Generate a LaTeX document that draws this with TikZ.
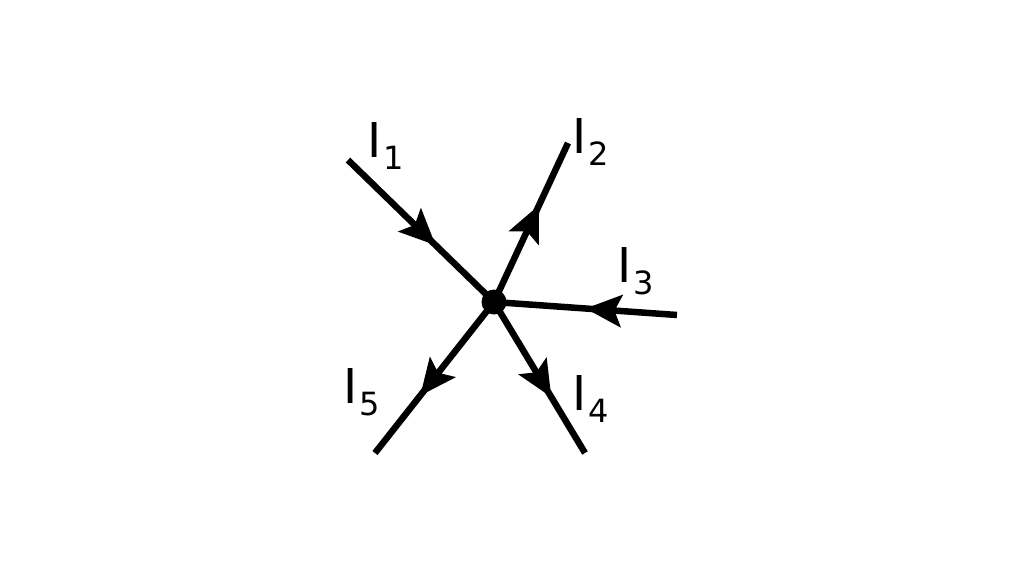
\documentclass[tikz,border=0pt]{standalone}
\usepackage{fontspec}
\setmainfont{DejaVu Sans}
\usetikzlibrary{arrows.meta,decorations.markings}

\tikzset{
  wire/.style={line width=6.5pt,color=black},
  midarrow/.style={postaction={decorate},decoration={markings,
    mark=at position #1 with {\arrow{Stealth[length=36pt,width=32pt,inset=7pt]}}}},
  junction/.style={circle,fill=black,inner sep=0pt,minimum size=25pt},
  curlabel/.style={anchor=base west,inner sep=0pt,font=\fontsize{48}{48}\selectfont}
}
\newcommand{\cur}[1]{I\kern2pt\raisebox{-12pt}{\fontsize{32}{32}\selectfont #1}}

\begin{document}
\begin{tikzpicture}[x=1pt,y=1pt,yscale=-1,xscale=1]
\useasboundingbox (0,0) rectangle (1024,576);

% Junction
\node [junction] (o) at (494,302) {};
\coordinate (e1) at (348,160);
\coordinate (e2) at (568,143);
\coordinate (e3) at (677,315);
\coordinate (e4) at (585,453);
\coordinate (e5) at (375,453);

% Straight Lines
\draw [wire,midarrow=0.6] (e1) -- (o.center);
\draw [wire,midarrow=0.61] (o.center) -- (e2);
\draw [wire,midarrow=0.5] (e3) -- (o.center);
\draw [wire,midarrow=0.63] (o.center) -- (e4);
\draw [wire,midarrow=0.62] (o.center) -- (e5);

% Text Node
\node [curlabel] (l1) at (367,157) {\cur{1}};
% Text Node
\node [curlabel] (l2) at (572,153) {\cur{2}};
% Text Node
\node [curlabel] (l3) at (617,282) {\cur{3}};
% Text Node
\node [curlabel] (l4) at (572,410) {\cur{4}};
% Text Node
\node [curlabel] (l5) at (343,403) {\cur{5}};

\end{tikzpicture}
\end{document}
